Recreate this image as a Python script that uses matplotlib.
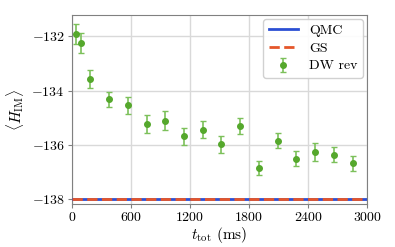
import numpy as np
import matplotlib
matplotlib.use("Agg")
import matplotlib.pyplot as plt

plt.rcParams['font.family'] = 'serif'
plt.rcParams['font.serif'] = ['cmr10']
plt.rcParams['mathtext.fontset'] = 'cm'
plt.rcParams['axes.formatter.use_mathtext'] = True

t_tot = [40, 90, 190, 380, 570, 760, 950, 1140, 1330, 1520, 1710, 1900,
         2090, 2280, 2470, 2660, 2850]
h_dw = [-131.92, -132.25, -133.58, -134.33, -134.55, -135.24, -135.11,
        -135.68, -135.44, -135.97, -135.31, -136.86, -135.85, -136.50,
        -136.26, -136.36, -136.68]
h_err = [0.37, 0.36, 0.33, 0.29, 0.31, 0.33, 0.34, 0.31, 0.31, 0.31, 0.29,
         0.26, 0.28, 0.26, 0.32, 0.28, 0.28]
qmc = -138.0
gs = -138.0

fig = plt.figure(figsize=(3.95, 2.47), dpi=100)
ax = fig.add_axes([0.1815, 0.174, 0.7485, 0.766])

ax.axhline(qmc, color='#2b4fd4', lw=2, label='QMC', zorder=3)
ax.axhline(gs, color='#e5562a', lw=2, ls='--', label='GS', zorder=3)
ax.errorbar(t_tot, h_dw, yerr=h_err, fmt='o', color='#55a82c', ms=4,
            ecolor='#7cc05a', elinewidth=1.2, capsize=2, label='DW rev', zorder=4)

ax.set_xlim(0, 3000)
ax.set_ylim(-138.17, -131.22)
ax.set_xticks(np.arange(0, 3001, 600))
ax.set_yticks([-138, -136, -134, -132])
ax.grid(True, color='#d9d9d9', lw=1)
ax.set_axisbelow(True)
for s in ax.spines.values():
    s.set_color('#808080')
ax.tick_params(labelsize=10, color='#808080', length=3, pad=2)

ax.set_xlabel(r'$t_{\rm tot}$ (ms)', fontsize=11, labelpad=1)
ax.set_ylabel(r'$\langle H_{\rm IM}\rangle$', fontsize=11, labelpad=4)
ax.legend(loc='upper right', fontsize=10, handlelength=2.1, borderpad=0.4,
          labelspacing=0.35, framealpha=0.9, borderaxespad=0.3)

fig.savefig('out.png', dpi=100)
